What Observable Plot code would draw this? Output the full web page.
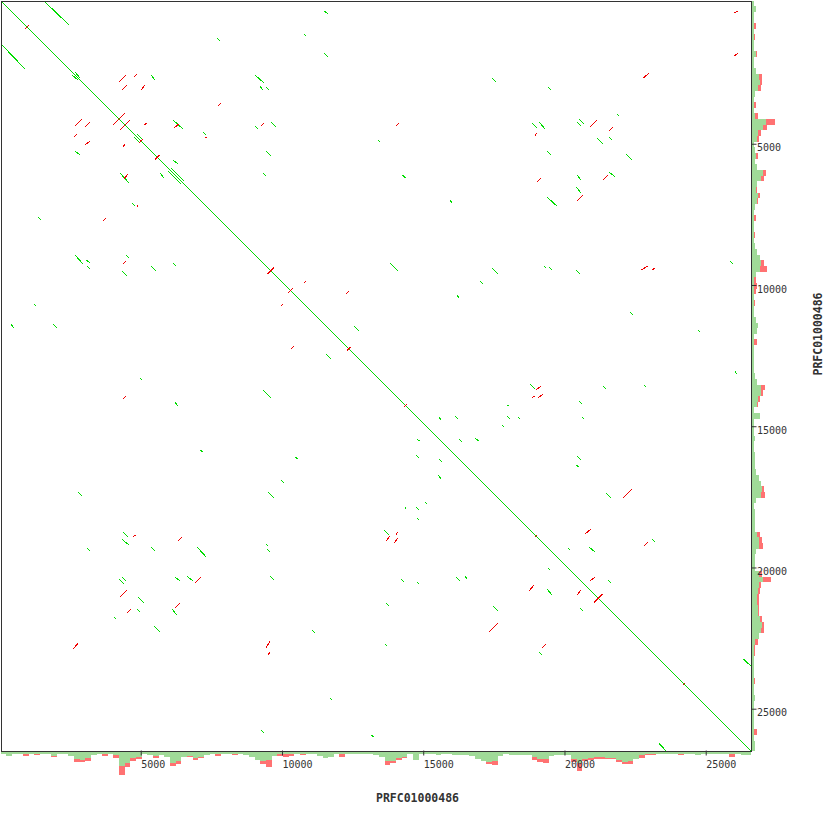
<!DOCTYPE html>
<html><head><meta charset="utf-8">
<script src="https://cdn.jsdelivr.net/npm/d3@7"></script>
<script src="https://cdn.jsdelivr.net/npm/@observablehq/plot@0.6"></script>
<style>
body{margin:0;background:#fff}
#wrap{position:relative;width:830px;height:830px}
#wrap svg{position:absolute;left:0;top:0}
</style>
</head><body><div id="wrap"></div>
<script>
// ---- data ----
const seqName = "PRFC01000486";
const seqLength = 26550;
const tickValues = [5000, 10000, 15000, 20000, 25000];
const binSize = 200;

// forward (same strand) hits above the diagonal: [x1, y1, x2, y2] in bp (mirrored below)
const forwardHits = [
[1520,0,2410,850],[2620,2510,2800,2730],[5310,2620,5450,2800],[6090,4210,6440,4530],
[4810,4710,4990,4890],[6090,5630,6270,5770],[6020,5910,6480,6370],[11430,350,11580,460],
[10730,1170,10800,1240],[7650,1310,7750,1420],[11430,1840,11580,1980],[8990,2620,9310,2900],
[9170,3010,9270,3150],[9380,3040,9490,3150],[8990,4430,9100,4530],[9560,4280,9740,4460],
[7150,4640,7260,4740],[13350,4920,13420,4990],[9380,5310,9560,5490],[9270,6090,9380,6200],
[14200,6160,14340,6270],[15890,7040,15970,7150],[17380,2730,17520,2870],[19360,3040,19470,3150],
[21810,4000,21880,4070],[18800,4320,18970,4500],[19050,4280,19260,4530],[20390,4280,20530,4430],
[20460,4180,20640,4350],[21100,4850,21310,5060],[21520,4810,21630,4920],[19330,5310,19470,5450],
[22130,5420,22340,5630],[20390,6160,20530,6340],[21520,6050,21740,6230],[20360,6580,20530,6800],
[19330,6940,19680,7260],[12500,11510,12670,11680],[13770,9270,14050,9560],[17380,9450,17590,9660],
[16960,9910,17060,10020],[16140,10410,16210,10510],[15510,14730,15580,14830],[16070,14690,16180,14800],
[16210,15510,16320,15610],[16780,15470,16920,15580],[19220,9380,19290,9450],[19400,9420,19510,9520],
[20360,9520,20500,9660],[25810,9200,25910,9310],[22270,11010,22370,11120],[24670,11650,24740,11720],
[25980,13100,26050,13200],[18730,13560,18900,13740],[21310,13630,21420,13740],[22760,13590,22830,13660],
[17910,14300,17980,14320],[17910,14690,18020,14800],[18300,14730,18370,14800],[17740,15010,17810,15080],
[20460,14160,20570,14270],[20570,14730,20640,14800],[20390,16110,20530,16250],[20360,16430,20460,16500],
[21420,17420,21590,17590],[23050,19050,23150,19150],[20070,19360,20140,19430],[20820,19330,21030,19510],
[21490,20500,21590,20600],[26270,23290,26550,23540]
];

// reverse-complement hits above (or across) the diagonal: [x1, y1, x2, y2] in bp (mirrored below)
const reverseHits = [
[890,960,990,850],[3960,4390,4390,3960],[4210,4570,4570,4210],[4920,4960,5030,4890],
[5450,5590,5630,5450],[9420,9660,9660,9450],[10160,10340,10340,10160],[12250,12360,12390,12250],
[14270,14370,14370,14270],[18900,18980,18980,18900],[20990,21270,21310,20990],[24140,24220,24220,24140],
[4180,2870,4430,2620],[4710,2690,4810,2580],[4280,3150,4460,2970],[4960,3150,5100,2970],
[5060,4390,5170,4320],[6120,4500,6300,4350],[7680,3720,7790,3610],[9200,4430,9310,4320],
[7220,4850,7290,4810],[13980,4430,14090,4320],
[22730,2730,22940,2550],[18900,4780,18970,4670],[20850,4460,21100,4210],[21520,4600,21660,4460],
[18970,6410,19120,6270],[21310,6340,21490,6160],[20390,7080,20600,6870],[10730,9980,10800,9910],
[12210,10370,12320,10270],[22660,9520,22900,9380],[23050,9520,23150,9450],[18940,13770,19120,13630],
[18800,14050,18900,13980],[19010,14050,19190,13910],[22020,17590,22340,17280],[20670,18870,20890,18690],
[22760,19290,22900,19150],[20850,20530,21030,20390]
];
// reverse hits seen only on one side of the diagonal
const reverseHitsUnpaired = [
[25950,420,26090,350],[25950,1950,26090,1840]
];

// coverage profile per 200 bp bin (forward depth, extra reverse depth)
const fwdDepth = [
3,5,3,3,3,3,3,3,3,5, 3,3,5,8,9,7,4,3,3,3, 4,15,12,7,6,3,4,5,4,6,
12,10,6,5,7,6,4,3,3,3, 3,3,3,4,6,9,10,9,5,3, 3,3,3,3,3,3,5,7,6,3,
3,3,3,3,3,3,4,6,10,10, 7,6,3,9,3,3,3,4,3,3, 4,4,4,5,8,10,11,10,5,3,
4,4,4,4,6,8,8,5,4,4, 4,8,12,8,7,6,6,7,7,9, 11,10,8,4,3,3,3,3,3,3,
3,3,3,4,3,3,3,3,3,3, 3,4,4
];
const revDepth = [
0,0,0,0,2,0,1,0,0,1, 0,0,0,3,2,3,0,0,2,0, 3,9,4,3,2,0,0,2,0,0,
3,3,0,1,2,1,0,0,2,0, 0,1,0,0,0,0,3,7,0,2, 3,2,0,1,0,0,0,0,0,0,
3,0,0,0,0,0,0,0,4,2, 2,1,0,0,0,0,0,0,0,0, 0,0,0,0,0,0,2,4,0,0,
0,0,0,0,3,3,4,0,0,0, 0,3,8,2,2,2,2,1,1,2, 2,3,0,3,1,1,0,0,0,0,
1,0,0,0,0,0,0,0,0,3, 0,0,0
];

// ---- build ----
const W = 830, H = 830, mL = 0.5, mT = 0.5, mR = 79.5, mB = 79.5;
const green = "#00dc00", red = "#f00000", covGreen = "#a0da98", covRed = "#ff7272", ink = "#333";
const asRow = ([x1,y1,x2,y2]) => ({x1,y1,x2,y2});
const toRows = hits => hits.flatMap(([x1,y1,x2,y2]) => [{x1,y1,x2,y2},{x1:y1,y1:x1,x2:y2,y2:x2}]);
const fwdRows = toRows(forwardHits);
const revRows = toRows(reverseHits).concat(reverseHitsUnpaired.map(asRow));
const diag = [{x1:0,y1:0,x2:seqLength,y2:seqLength}];
const bins = fwdDepth.map((g,i) => ({start:i*binSize, end:Math.min((i+1)*binSize, seqLength), g, r:revDepth[i]}));
const posDomain = [0, seqLength];
const posRangeX = [mL, W - mR];
const posRangeY = [mT, H - mB];
const lk = {x1:"x1", y1:"y1", x2:"x2", y2:"y2", strokeWidth:1, shapeRendering:"crispEdges"};

const wrap = document.getElementById("wrap");

const bottom = Plot.plot({
  width: W, height: 50, marginLeft: 0, marginRight: 0, marginTop: 0, marginBottom: 0,
  style: {background: "transparent"},
  x: {domain: posDomain, range: posRangeX, axis: null},
  y: {domain: [0, 50], range: [0, 50], axis: null},
  marks: [
    Plot.rect(bins, {x1:"start", x2:"end", y1: d => 0, y2:"g", fill: covGreen, shapeRendering:"crispEdges"}),
    Plot.rect(bins.filter(d => d.r > 0), {x1:"start", x2:"end", y1:"g", y2: d => d.g + d.r, fill: covRed, shapeRendering:"crispEdges"})
  ]
});
bottom.style.top = "751px";
wrap.appendChild(bottom);

const right = Plot.plot({
  width: 50, height: H, marginLeft: 0, marginRight: 0, marginTop: 0, marginBottom: 0,
  style: {background: "transparent"},
  x: {domain: [0, 50], range: [0, 50], axis: null},
  y: {domain: posDomain, range: posRangeY, axis: null},
  marks: [
    Plot.rect(bins, {y1:"start", y2:"end", x1: d => 0, x2:"g", fill: covGreen, shapeRendering:"crispEdges"}),
    Plot.rect(bins.filter(d => d.r > 0), {y1:"start", y2:"end", x1:"g", x2: d => d.g + d.r, fill: covRed, shapeRendering:"crispEdges"})
  ]
});
right.style.left = "751px";
wrap.appendChild(right);

const main = Plot.plot({
  width: W, height: H, marginLeft: mL, marginTop: mT, marginRight: mR, marginBottom: mB,
  style: {background: "transparent", fontFamily: "'DejaVu Sans Mono', monospace", fontSize: "10px", color: ink},
  x: {domain: posDomain, range: posRangeX, label: null},
  y: {domain: posDomain, range: posRangeY, label: null},
  marks: [
    Plot.link(diag, {...lk, stroke: green}),
    Plot.link(fwdRows, {...lk, stroke: green}),
    Plot.link(revRows, {...lk, stroke: red}),
    Plot.frame({stroke: ink, shapeRendering: "crispEdges"}),
    Plot.axisX(tickValues, {anchor: "bottom", tickSize: 5, tickPadding: 5, tickFormat: "d", textAnchor: "start", dx: -1, label: null, stroke: ink, fill: ink}),
    Plot.axisY(tickValues, {anchor: "right", tickSize: 5, tickPadding: 1, tickFormat: "d", lineAnchor: "top", dy: 2, label: null, stroke: ink, fill: ink}),
    Plot.text([seqName], {frameAnchor: "bottom", dx: 41.5, dy: 47, lineAnchor: "middle", fontWeight: "bold", fontSize: 11.5, fill: ink}),
    Plot.text([seqName], {frameAnchor: "top-right", rotate: -90, dx: 67, dy: 333, lineAnchor: "middle", textAnchor: "middle", fontWeight: "bold", fontSize: 11.5, fill: ink})
  ]
});
wrap.appendChild(main);
</script>
</body></html>
